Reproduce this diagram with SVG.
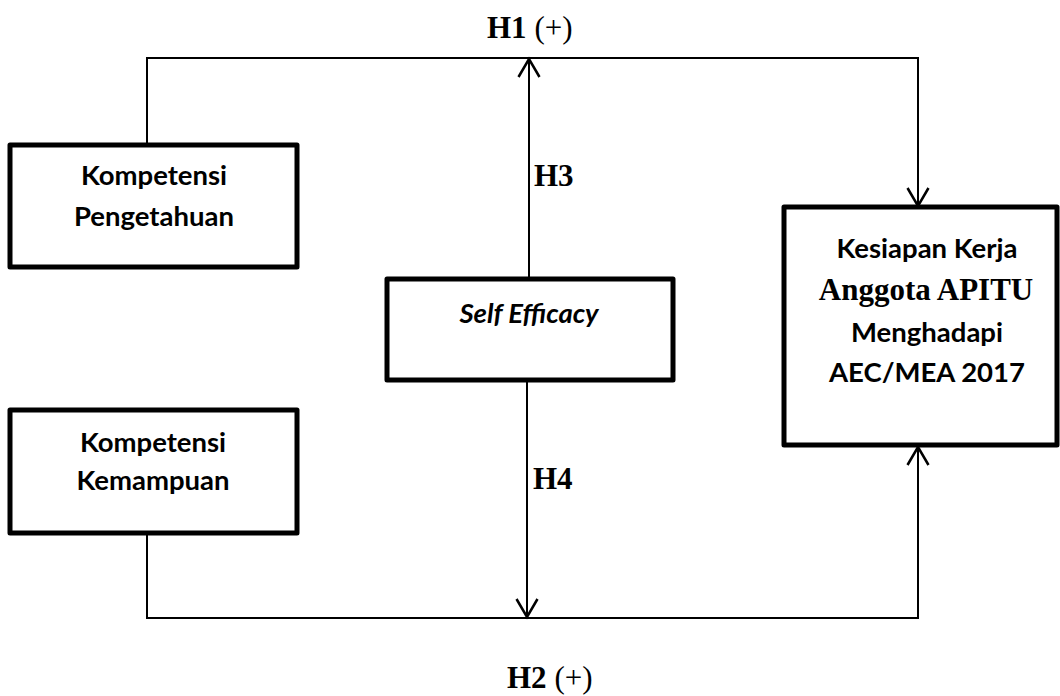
<svg xmlns="http://www.w3.org/2000/svg" width="1060" height="696" viewBox="0 0 1060 696">
<style>
.box{fill:#fff;stroke:#000;stroke-width:5;stroke-linejoin:round}
.ln{fill:none;stroke:#000;stroke-width:2}
.ah{fill:none;stroke:#000;stroke-width:2.5}
.t{font-family:Lato,"Open Sans",sans-serif;font-weight:bold;font-size:27.5px;text-anchor:middle;fill:#000}
.s{font-family:"Liberation Serif","Times New Roman",serif;font-size:31px;fill:#000}
.b{font-weight:bold}
</style>
<rect width="1060" height="696" fill="#fff"/>
<g id="connectors">
<polyline class="ln" points="147,145 147,58 918,58 918,205"/>
<polyline class="ah" points="907.5,188 918,206 928.5,188"/>
<line class="ln" x1="529" y1="279" x2="529" y2="59"/>
<polyline class="ah" points="518.5,77 529,59 539.5,77"/>
<line class="ln" x1="527" y1="380" x2="527" y2="617"/>
<polyline class="ah" points="516.5,599 527,617 537.5,599"/>
<polyline class="ln" points="147,533 147,618 918,618 918,448"/>
<polyline class="ah" points="907.5,465 918,447 928.5,465"/>
</g>
<g id="labels">
<text class="s" x="487" y="38"><tspan class="b">H1</tspan> (+)</text>
<text class="s b" x="534" y="186">H3</text>
<text class="s b" x="533" y="489">H4</text>
<text class="s" x="507" y="688"><tspan class="b">H2</tspan> (+)</text>
</g>
<g id="kompetensi-pengetahuan">
<rect class="box" x="10" y="145" width="287" height="122"/>
<text class="t" x="154" y="185">Kompetensi</text>
<text class="t" x="154" y="226">Pengetahuan</text>
</g>
<g id="kompetensi-kemampuan">
<rect class="box" x="10" y="410" width="287" height="123"/>
<text class="t" x="153" y="452">Kompetensi</text>
<text class="t" x="153" y="490">Kemampuan</text>
</g>
<g id="self-efficacy">
<rect class="box" x="387" y="279" width="286" height="101"/>
<text class="t" x="529" y="323" font-style="italic">Self Efficacy</text>
</g>
<g id="kesiapan-kerja">
<rect class="box" x="784" y="207" width="273" height="238"/>
<text class="t" x="927" y="258">Kesiapan Kerja</text>
<text class="s b" x="926" y="300" font-size="32" text-anchor="middle">Anggota APITU</text>
<text class="t" x="927" y="342">Menghadapi</text>
<text class="t" x="927" y="382">AEC/MEA 2017</text>
</g>
</svg>
